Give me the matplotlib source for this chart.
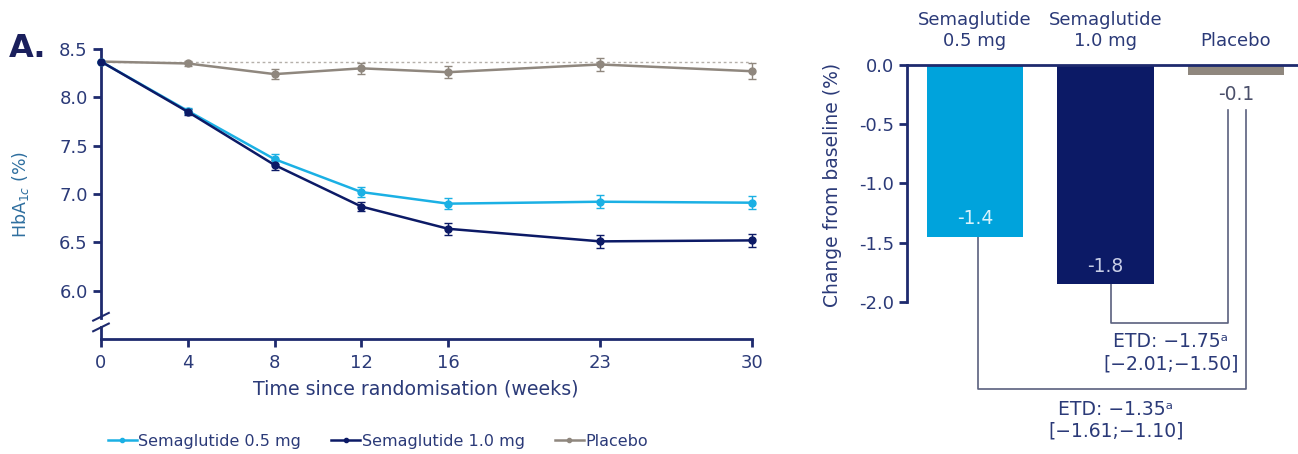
import numpy as np
import matplotlib
matplotlib.use('Agg')
import matplotlib.pyplot as plt

# HbA1c over time
weeks = [0, 4, 8, 12, 16, 23, 30]
sema05 = [8.37, 7.86, 7.36, 7.02, 6.90, 6.92, 6.91]
sema10 = [8.37, 7.85, 7.30, 6.87, 6.64, 6.51, 6.52]
placebo = [8.37, 8.35, 8.24, 8.30, 8.26, 8.34, 8.27]
err05 = [0.0, 0.03, 0.05, 0.05, 0.06, 0.07, 0.07]
err10 = [0.0, 0.03, 0.05, 0.05, 0.06, 0.07, 0.07]
errpl = [0.0, 0.03, 0.05, 0.06, 0.06, 0.07, 0.08]
baseline = 8.37

# change from baseline
groups = ['Semaglutide\n0.5 mg', 'Semaglutide\n1.0 mg', 'Placebo']
change = [-1.45, -1.85, -0.085]
change_labels = ['-1.4', '-1.8', '-0.1']
etd_10 = 'ETD: \u22121.75\u1d43\n[\u22122.01;\u22121.50]'
etd_05 = 'ETD: \u22121.35\u1d43\n[\u22121.61;\u22121.10]'

c05 = '#1bb0e4'
c05bar = '#00a3dc'
c10 = '#0c1a66'
cpl = '#8f877e'
navy = '#1e2a6e'
txt = '#2b3a78'

plt.rcParams['font.family'] = ['DejaVu Sans']

fig = plt.figure(figsize=(12.98, 4.54), dpi=100)

# ---- left panel ----
ax = fig.add_axes([0.0778, 0.2533, 0.5016, 0.6388])
ax.plot([0, 30], [baseline, baseline], ls=(0, (2, 2)), color='#b5b0aa', lw=1, zorder=1)
for y, e, c, lab in [(placebo, errpl, cpl, 'Placebo'),
                     (sema05, err05, c05, 'Semaglutide 0.5 mg'),
                     (sema10, err10, c10, 'Semaglutide 1.0 mg')]:
    ax.errorbar(weeks, y, yerr=e, color=c, lw=1.8, marker='o', ms=5,
                capsize=3, elinewidth=1, capthick=1, label=lab, clip_on=False, zorder=3)

ax.set_xlim(0, 30)
ax.set_ylim(5.5, 8.5)
ax.set_xticks(weeks)
ax.set_yticks([6.0, 6.5, 7.0, 7.5, 8.0, 8.5])
ax.set_yticklabels(['6.0', '6.5', '7.0', '7.5', '8.0', '8.5'])
for s in ['top', 'right']:
    ax.spines[s].set_visible(False)
ax.spines['left'].set_visible(False)
ax.spines['bottom'].set_color(navy)
ax.spines['bottom'].set_linewidth(2)
# y spine with break
ax.plot([0, 0], [5.72, 8.5], color=navy, lw=2, clip_on=False)
ax.plot([0, 0], [5.5, 5.62], color=navy, lw=2, clip_on=False)
tr = ax.get_yaxis_transform()
for yb in [5.73, 5.62]:
    ax.plot([-0.012, 0.012], [yb - 0.04, yb + 0.04], color=navy, lw=1.5,
            transform=tr, clip_on=False)
ax.tick_params(axis='both', colors=navy, labelcolor=txt, labelsize=13,
               width=2, length=6, direction='out')
ax.tick_params(axis='x', pad=5)
ax.set_xlabel('Time since randomisation (weeks)', color=txt, fontsize=13.7)
ax.xaxis.set_label_coords(0.484, -0.14)
ax.set_ylabel('HbA$_{1c}$ (%)', color='#2f6f9f', fontsize=12.5)
ax.yaxis.set_label_coords(-0.108, 0.5)
fig.text(0.007, 0.874, 'A.', fontsize=23, fontweight='heavy', color='#1a1f5c',
         va='baseline')

h, l = ax.get_legend_handles_labels()
order = [1, 2, 0]
leg = fig.legend([h[i][0] for i in order], [l[i] for i in order], loc='lower left',
                 bbox_to_anchor=(0.072, -0.02), ncol=3, frameon=False,
                 fontsize=11.5, handlelength=1.8, handletextpad=0.1, columnspacing=1.9,
                 markerscale=0.6)
for t in leg.get_texts():
    t.set_color(txt)

# ---- right panel ----
bx = fig.add_axes([0.6988, 0.0198, 0.3012, 0.859])
xpos = np.arange(len(groups))
bars = bx.bar(xpos, change, width=0.74, color=[c05bar, c10, cpl], zorder=2)
bx.set_xlim(-0.52, 2.475)
bx.set_ylim(-3.21, 0.084)
bx.axhline(0, color=navy, lw=2, zorder=3)
for s in ['top', 'right', 'bottom']:
    bx.spines[s].set_visible(False)
bx.spines['left'].set_bounds(-2.0, 0.0)
bx.spines['left'].set_color(navy)
bx.spines['left'].set_linewidth(2)
bx.set_xticks([])
bx.set_yticks([0.0, -0.5, -1.0, -1.5, -2.0])
bx.set_yticklabels(['0.0', '-0.5', '-1.0', '-1.5', '-2.0'])
bx.tick_params(axis='y', colors=navy, labelcolor=txt, labelsize=13, width=2, length=6)
bx.set_ylabel('Change from baseline (%)', color=txt, fontsize=13.5)
bx.yaxis.set_label_coords(-0.166, 0.667)

for i, g in enumerate(groups):
    bx.text(xpos[i], 0.125, g, ha='center', va='bottom', fontsize=13, color=txt,
            linespacing=1.2, clip_on=False)
bx.text(xpos[0], change[0] + 0.15, change_labels[0], ha='center', va='center',
        fontsize=13.5, color='#d8f2fb')
bx.text(xpos[1], change[1] + 0.15, change_labels[1], ha='center', va='center',
        fontsize=13.5, color='#c8cde6')
bx.text(xpos[2], change[2] - 0.165, change_labels[2], ha='center', va='center',
        fontsize=13.5, color='#4a4f6a')

# ETD brackets
pl_a = xpos[2] - 0.06
pl_b = xpos[2] + 0.08
bx.plot([xpos[1] + 0.04, xpos[1] + 0.04, pl_a, pl_a], [change[1], -2.18, -2.18, -0.38],
        color='#5a607e', lw=1.2, zorder=1)
bx.plot([xpos[0] + 0.02, xpos[0] + 0.02, pl_b, pl_b], [change[0], -2.74, -2.74, -0.38],
        color='#5a607e', lw=1.2, zorder=1)
bx.text(1.5, -2.43, etd_10, ha='center', va='center', fontsize=13.5, color=txt,
        linespacing=1.2)
bx.text(1.08, -3.0, etd_05, ha='center', va='center', fontsize=13.5, color=txt,
        linespacing=1.2)

fig.savefig('out.png', dpi=100)
